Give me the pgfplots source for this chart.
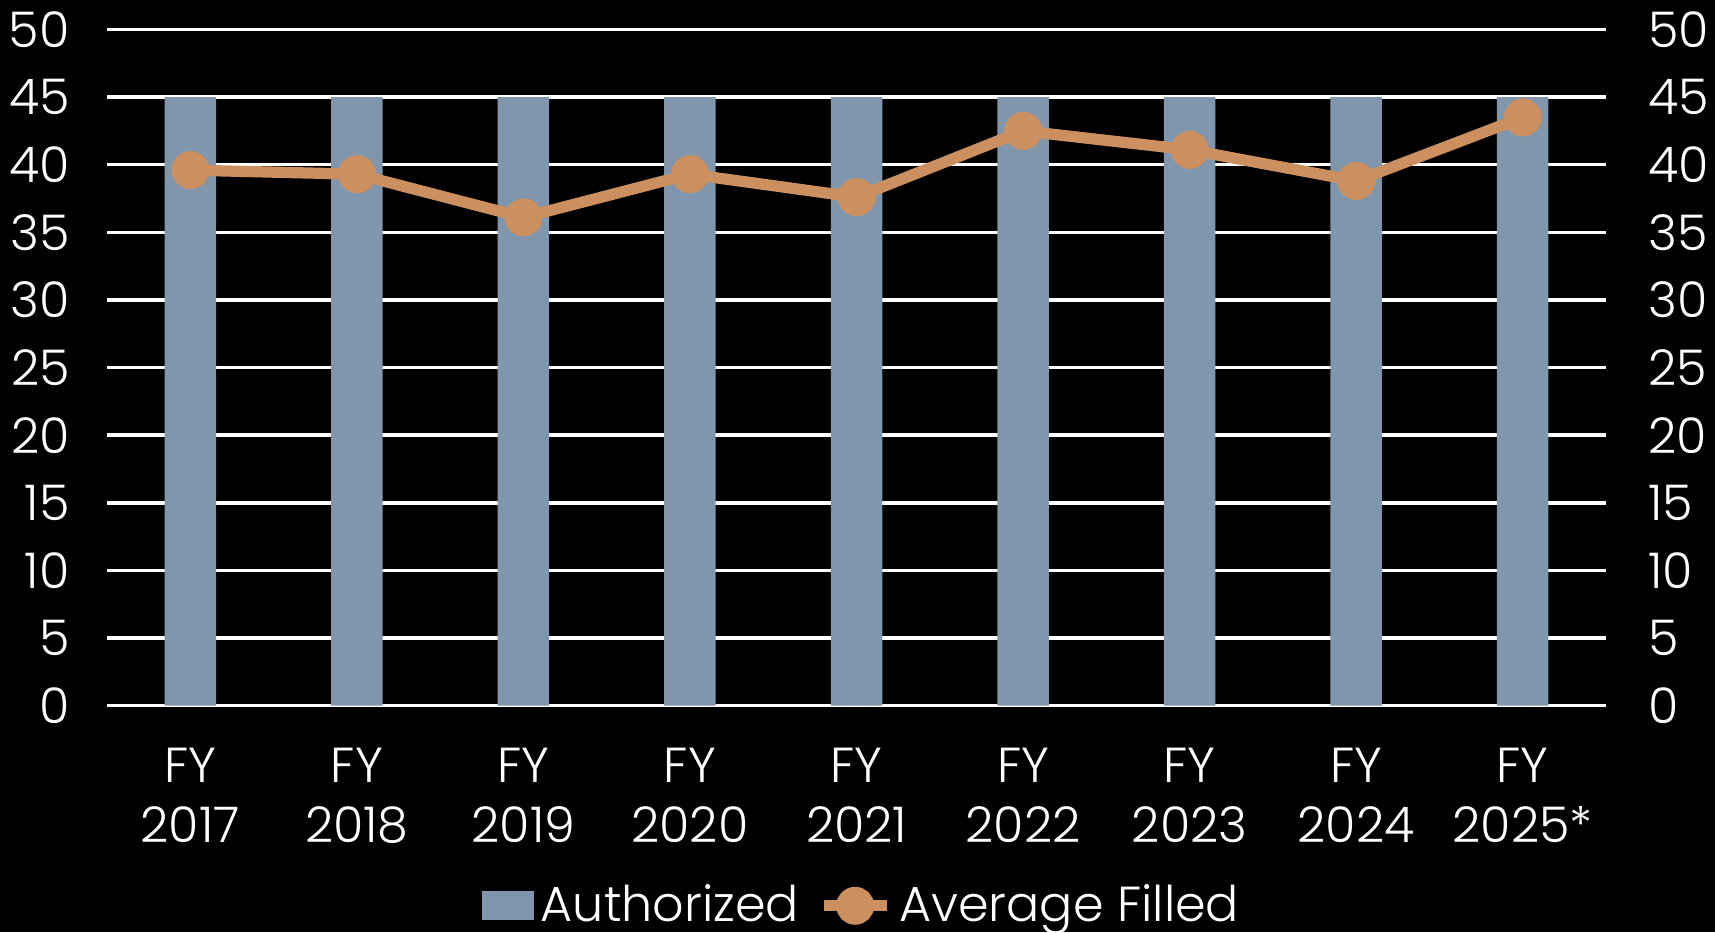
\documentclass[border=0pt]{standalone}
\usepackage{pgfplots}
\pgfplotsset{compat=1.18}
\usepackage{fontspec}
\setmainfont{Poppins}[UprightFont=* Light]
\definecolor{barc}{RGB}{127,150,173}
\definecolor{linec}{RGB}{204,143,96}
\begin{document}
\begin{tikzpicture}
\fill[black] (0,0) rectangle (17.15cm,9.32cm);
\useasboundingbox (0,0) rectangle (17.15cm,9.32cm);
\begin{axis}[
  at={(1.07cm,2.264cm)}, anchor=south west,
  width=14.99cm, height=6.761cm, scale only axis,
  xmin=-0.5, xmax=8.5, ymin=0, ymax=50,
  ytick={0,5,...,50},
  xtick={0,...,8},
  xticklabels={{FY\\2017},{FY\\2018},{FY\\2019},{FY\\2020},{FY\\2021},{FY\\2022},{FY\\2023},{FY\\2024},{FY\\2025*}},
  xticklabel style={align=center, text=white, font=\fontsize{14}{17}\selectfont, yshift=-0.3cm},
  yticklabel style={text=white, font=\fontsize{14}{17}\selectfont, xshift=-0.25cm},
  /pgf/number format/assume math mode=true,
  axis line style={draw=none},
  major tick length=0,
  ymajorgrids, grid style={white, line width=1pt},
  legend style={at={(axis description cs:0.505,-0.243)}, anchor=north, draw=none, fill=none,
    text=white, font=\fontsize{14}{17}\selectfont, legend columns=2,
    /tikz/every even column/.append style={column sep=0.12cm}},
]
\addplot[ybar, bar width=0.515cm, fill=barc, draw=none,
  legend image code/.code={\fill[barc] (0cm,-0.145cm) rectangle (0.52cm,0.145cm);}]
  coordinates {(0,45) (1,45) (2,45) (3,45) (4,45) (5,45) (6,45) (7,45) (8,45)};
\addlegendentry{Authorized}
\addplot[linec, line width=3.2pt, mark=*, mark size=3.8pt, mark options={fill=linec, draw=linec},
  legend image code/.code={\draw[linec, line width=3.2pt] (0cm,0cm) -- (0.63cm,0cm); \fill[linec] (0.315cm,0cm) circle (3.8pt);}]
  coordinates {(0,39.6) (1,39.3) (2,36.1) (3,39.3) (4,37.6) (5,42.5) (6,41.1) (7,38.8) (8,43.5)};
\addlegendentry{Average Filled}
\end{axis}
\begin{axis}[
  at={(1.07cm,2.264cm)}, anchor=south west,
  width=14.99cm, height=6.761cm, scale only axis,
  xmin=-0.5, xmax=8.5, ymin=0, ymax=50,
  ytick={0,5,...,50},
  axis y line*=right, hide x axis,
  axis line style={draw=none},
  major tick length=0,
  yticklabel style={text=white, font=\fontsize{14}{17}\selectfont, xshift=0.3cm},
  /pgf/number format/assume math mode=true,
]
\addplot[draw=none] coordinates {(0,0)};
\end{axis}
\end{tikzpicture}
\end{document}
